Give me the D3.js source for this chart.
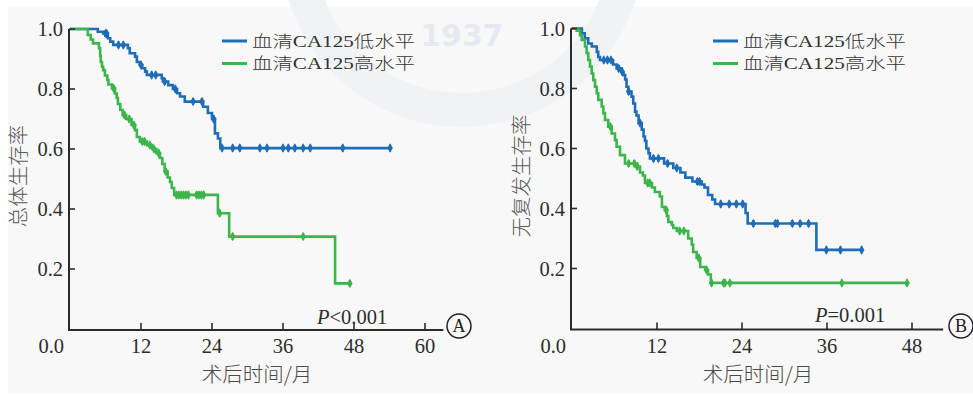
<!DOCTYPE html>
<html><head><meta charset="utf-8">
<script src="https://cdn.jsdelivr.net/npm/d3@7"></script>
<style>
html,body{margin:0;padding:0;background:#fff;}
svg{display:block;}
</style></head>
<body>
<svg id="chart" width="973" height="395"></svg>
<script>
// ---------- DATA ----------
const legendLabels = ["血清CA125低水平", "血清CA125高水平"];
const yTickValues = [0.2, 0.4, 0.6, 0.8, 1.0];
const xTicksA = [12, 24, 36, 48, 60];
const xTicksB = [12, 24, 36, 48];

// Panel A: overall survival
const osLowTimes = [4.7,5.6,6.4,6.8,7.3,9.8,10.1,11.0,11.3,11.8,12.2,12.7,13.0,15.5,15.7,16.6,17.4,18.1,18.6,19.4,22.5,23.3,24.0,24.5,25.0,25.4];
const osLowSurv  = [0.991,0.985,0.969,0.958,0.947,0.936,0.919,0.908,0.89,0.88,0.869,0.858,0.847,0.836,0.825,0.813,0.80,0.786,0.775,0.758,0.741,0.72,0.70,0.652,0.635,0.603];
const osLowCensor = [6.0,6.2,8.2,9.0,12.0,13.8,14.5,16.0,17.8,20.8,22.3,24.3,25.7,27.5,28.7,32.1,33.3,36.0,36.9,38.0,39.4,40.6,46.1,54.1];
const osLowEnd = 54.1;

const osHighTimes = [3.0,3.5,3.9,4.9,5.1,5.2,5.4,5.6,5.9,6.3,6.5,7.1,7.6,7.9,8.1,8.5,8.9,9.5,10.4,11.0,11.3,11.8,13.0,13.9,14.6,15.2,15.6,16.0,16.5,16.9,17.2,17.6,25.0,26.9,44.8];
const osHighSurv  = [0.98,0.965,0.952,0.936,0.91,0.89,0.875,0.863,0.845,0.83,0.815,0.802,0.785,0.77,0.75,0.73,0.713,0.70,0.68,0.663,0.64,0.625,0.613,0.60,0.586,0.57,0.55,0.525,0.505,0.49,0.47,0.447,0.386,0.308,0.152];
const osHighCensor = [7.4,9.2,10.0,10.8,12.2,12.6,13.5,14.2,15.0,16.2,18.0,18.4,18.8,19.2,19.6,20.0,21.4,21.8,22.2,22.6,25.3,27.5,39.4,47.3];
const osHighEnd = 47.3;

// Panel B: recurrence-free survival
const rfsLowTimes = [1.4,1.8,2.3,2.8,3.5,3.7,3.95,5.8,6.3,7.0,7.25,7.5,7.7,7.95,8.4,8.65,8.9,9.1,9.4,9.85,10.1,10.3,10.5,10.8,11.0,13.0,14.3,15.3,16.0,17.0,18.3,18.7,19.2,19.8,20.2,24.5,24.8,34.5];
const rfsLowSurv  = [0.984,0.967,0.95,0.94,0.922,0.905,0.895,0.88,0.867,0.855,0.845,0.83,0.806,0.79,0.773,0.75,0.723,0.71,0.685,0.663,0.64,0.625,0.60,0.584,0.567,0.55,0.535,0.52,0.503,0.49,0.48,0.47,0.445,0.43,0.415,0.385,0.35,0.262];
const rfsLowCensor = [4.5,5.0,5.5,6.6,7.1,8.0,9.6,11.5,12.2,13.5,14.8,17.7,18.0,21.0,22.2,23.2,24.1,25.6,28.7,29.0,31.1,32.2,33.4,35.9,37.9,40.9];
const rfsLowEnd = 40.9;

const rfsHighTimes = [0.66,1.13,1.37,1.84,2.07,2.3,2.54,2.78,3.0,3.25,3.49,3.71,4.19,4.42,4.66,5.12,5.6,6.07,6.3,6.78,7.48,9.2,9.6,10.0,10.3,11.3,11.7,12.4,12.7,13.1,13.4,13.6,14.1,14.3,14.8,16.4,16.9,17.1,17.6,18.1,18.8,19.2,19.6];
const rfsHighSurv  = [0.993,0.978,0.962,0.94,0.918,0.895,0.873,0.85,0.828,0.806,0.784,0.762,0.74,0.718,0.695,0.673,0.65,0.628,0.606,0.578,0.55,0.54,0.52,0.51,0.485,0.47,0.455,0.44,0.405,0.395,0.375,0.355,0.345,0.335,0.325,0.30,0.28,0.255,0.235,0.205,0.195,0.18,0.152];
const rfsHighCensor = [5.4,8.0,8.8,9.2,10.7,11.0,13.3,15.2,15.8,17.9,19.0,19.7,21.4,21.6,22.3,38.1,47.3];
const rfsHighEnd = 47.3;

// ---------- DRAW ----------
const svg = d3.select("#chart");
const BLUE = "#1f6db6", GREEN = "#3cb54a";
const NUM_FONT = "'Liberation Serif','Times New Roman',serif";
const CJK_FONT = "'Noto Sans CJK SC','Noto Sans',sans-serif";

// background
svg.append("rect").attr("x",0).attr("y",0).attr("width",973).attr("height",395).attr("fill","#ffffff");
svg.append("rect").attr("x",8).attr("y",7).attr("width",965).attr("height",386).attr("fill","#f8f8f8");
// faint watermark
const wm = svg.append("g");
wm.append("circle").attr("cx",462).attr("cy",-55).attr("r",165)
  .attr("fill","none").attr("stroke","#f0f2f6").attr("stroke-width",34);
wm.append("text").attr("x",462).attr("y",46).attr("text-anchor","middle")
  .attr("font-family","'DejaVu Sans',sans-serif").attr("font-weight","bold").attr("font-size",30)
  .attr("fill","#e6eaf0").text("1937");

function survAt(times, surv, t){
  let s = 1;
  for (let i=0;i<times.length;i++){ if (times[i] <= t) s = surv[i]; }
  return s;
}

function panel(cfg){
  const g = svg.append("g");
  const x = d3.scaleLinear().domain([0, cfg.xMax]).range([cfg.x0, cfg.x1]);
  const y = d3.scaleLinear().domain([0, 1]).range([cfg.y0, cfg.y1]);
  const axisEndX = x(cfg.axisEnd);

  // curves
  cfg.series.forEach(s => {
    const pts = [[0,1]].concat(s.times.map((t,i)=>[t, s.surv[i]])).concat([[s.end, s.surv[s.surv.length-1]]]);
    const line = d3.line().x(d=>x(d[0])).y(d=>y(d[1])).curve(d3.curveStepAfter);
    g.append("path").attr("d", line(pts)).attr("fill","none")
      .attr("stroke", s.color).attr("stroke-width", 2.6).attr("stroke-linejoin","miter");
    s.censor.forEach(t => {
      const cx = x(t), cy = y(survAt(s.times, s.surv, t));
      g.append("path").attr("d", d3.symbol().type(d3.symbolDiamond).size(26)())
        .attr("transform", `translate(${cx},${cy})`).attr("fill", s.color);
      g.append("line").attr("x1",cx).attr("x2",cx).attr("y1",cy-3.5).attr("y2",cy+3.5)
        .attr("stroke", s.color).attr("stroke-width",2.2);
    });
  });

  // axes
  const axCol = "#2b2b2b";
  g.append("line").attr("x1", cfg.x0-1).attr("x2", cfg.x0-1).attr("y1", y(1)).attr("y2", y(0)+1)
    .attr("stroke", axCol).attr("stroke-width", 2);
  g.append("line").attr("x1", cfg.x0-2).attr("x2", axisEndX).attr("y1", y(0)+1).attr("y2", y(0)+1)
    .attr("stroke", axCol).attr("stroke-width", 2);
  // y ticks (inward)
  yTickValues.forEach(v => {
    g.append("line").attr("x1", cfg.x0-1).attr("x2", cfg.x0+5).attr("y1", y(v)).attr("y2", y(v))
      .attr("stroke", axCol).attr("stroke-width", 1.6);
    g.append("text").attr("x", cfg.x0-7).attr("y", y(v)).attr("dy","0.35em")
      .attr("text-anchor","end").attr("font-family", NUM_FONT).attr("font-size", 20.5)
      .attr("fill","#2e2e2e").text(v.toFixed(1));
  });
  // x ticks (inward)
  cfg.xTicks.forEach(v => {
    g.append("line").attr("x1", x(v)).attr("x2", x(v)).attr("y1", y(0)+1).attr("y2", y(0)-6)
      .attr("stroke", axCol).attr("stroke-width", 1.6);
    g.append("text").attr("x", x(v)).attr("y", y(0)+24)
      .attr("text-anchor","middle").attr("font-family", NUM_FONT).attr("font-size", 20.5)
      .attr("fill","#2e2e2e").text(String(v));
  });
  // origin label
  g.append("text").attr("x", cfg.x0-6).attr("y", y(0)+24)
    .attr("text-anchor","end").attr("font-family", NUM_FONT).attr("font-size", 20.5)
    .attr("fill","#2e2e2e").text("0.0");

  // axis titles
  g.append("text").attr("transform", `translate(${cfg.yTitleX},${cfg.yTitleY}) rotate(-90)`)
    .attr("text-anchor","middle").attr("dy","0.35em").attr("font-family", CJK_FONT)
    .attr("font-weight", 300).attr("font-size", 20.5).attr("fill","#5a5a5a").text(cfg.yTitle);
  g.append("text").attr("x", cfg.xTitleX).attr("y", 382)
    .attr("text-anchor","middle").attr("font-family", CJK_FONT)
    .attr("font-weight", 300).attr("font-size", 20.5).attr("fill","#4a4a4a").text("术后时间/月");

  // legend
  cfg.series.forEach((s,i) => {
    const ly = cfg.legY + i*22.5;
    g.append("line").attr("x1", cfg.legX).attr("x2", cfg.legX+25).attr("y1", ly).attr("y2", ly)
      .attr("stroke", s.color).attr("stroke-width", 3);
    const lab = legendLabels[i];
    const t = g.append("text").attr("x", cfg.legX+30).attr("y", ly).attr("dy","0.36em")
      .attr("font-size", 15.5).attr("fill","#333")
      .attr("textLength", 163).attr("lengthAdjust","spacingAndGlyphs");
    t.append("tspan").attr("font-family", CJK_FONT).attr("font-weight",300).text(lab.slice(0,2));
    t.append("tspan").attr("font-family", NUM_FONT).attr("font-size", 16).text(lab.slice(2,7));
    t.append("tspan").attr("font-family", CJK_FONT).attr("font-weight",300).text(lab.slice(7));
  });

  // p-value
  const pt = g.append("text").attr("x", cfg.pX).attr("y", cfg.pY)
    .attr("font-family", NUM_FONT).attr("font-size", 20.5).attr("fill","#2e2e2e");
  pt.append("tspan").attr("font-style","italic").text("P");
  pt.append("tspan").text(cfg.pText);

  // panel badge
  g.append("circle").attr("cx", cfg.badgeX).attr("cy", 326).attr("r", 12)
    .attr("fill","none").attr("stroke","#222").attr("stroke-width",1.5);
  g.append("text").attr("x", cfg.badgeX).attr("y", 326).attr("dy","0.35em")
    .attr("text-anchor","middle").attr("font-family", NUM_FONT).attr("font-size", 18)
    .attr("fill","#222").text(cfg.badge);
}

panel({
  x0:70, x1:425, xMax:60, axisEnd:63.1, y0:329, y1:29, xTicks:xTicksA,
  yTitle:"总体生存率", yTitleX:19, yTitleY:176, xTitleX:257,
  legX:222, legY:41, pX:317, pY:324, pText:"<0.001", badge:"A", badgeX:459,
  series:[
    {times:osLowTimes, surv:osLowSurv, censor:osLowCensor, end:osLowEnd, color:BLUE},
    {times:osHighTimes, surv:osHighSurv, censor:osHighCensor, end:osHighEnd, color:GREEN}
  ]
});
panel({
  x0:572, x1:912, xMax:48, axisEnd:52.4, y0:328.5, y1:28.5, xTicks:xTicksB,
  yTitle:"无复发生存率", yTitleX:522, yTitleY:176, xTitleX:758,
  legX:713, legY:41, pX:815, pY:322, pText:"=0.001", badge:"B", badgeX:961,
  series:[
    {times:rfsLowTimes, surv:rfsLowSurv, censor:rfsLowCensor, end:rfsLowEnd, color:BLUE},
    {times:rfsHighTimes, surv:rfsHighSurv, censor:rfsHighCensor, end:rfsHighEnd, color:GREEN}
  ]
});
</script>
</body></html>
